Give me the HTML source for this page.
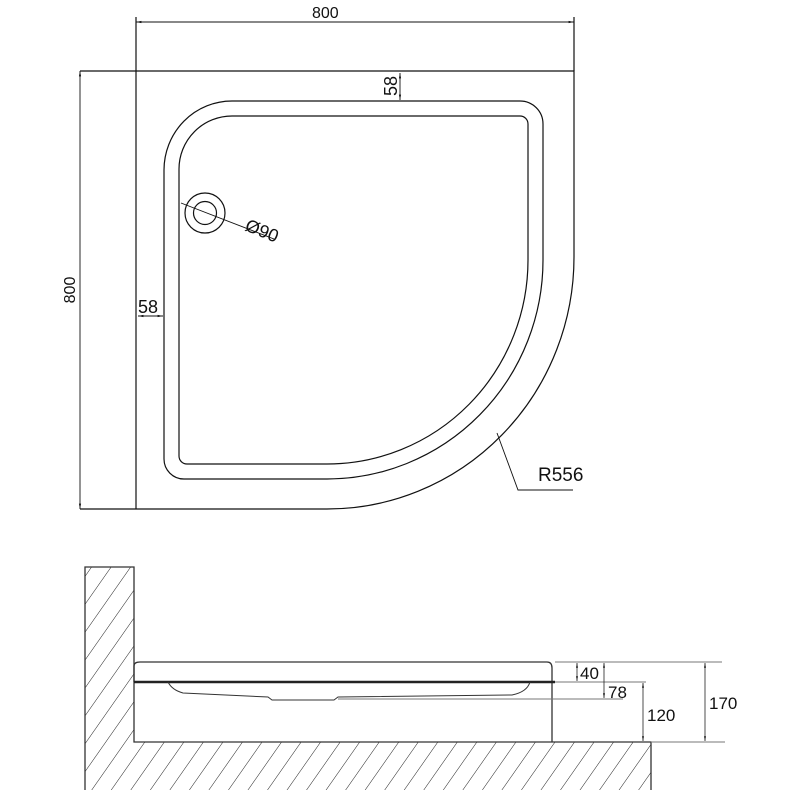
<!DOCTYPE html>
<html><head><meta charset="utf-8"><style>
html,body{margin:0;padding:0;background:#fff;}
svg{display:block;}
text{font-family:"Liberation Sans",sans-serif;fill:#111;}
</style></head><body>
<svg width="800" height="800" viewBox="0 0 800 800" xmlns="http://www.w3.org/2000/svg">
<defs>
<pattern id="h" width="16" height="16" patternUnits="userSpaceOnUse" patternTransform="rotate(35)">
<line x1="0" y1="0" x2="0" y2="16" stroke="#222" stroke-width="1"/>
</pattern>
<marker id="a" viewBox="0 0 10 10" refX="10" refY="5" markerWidth="6" markerHeight="6" orient="auto-start-reverse"><path d="M0,3 L10,5 L0,7 z" fill="#111"/></marker>
</defs>
<g fill="none" stroke="#111" stroke-width="1.2">
<line x1="136" y1="17" x2="136" y2="509"/>
<line x1="574" y1="17" x2="574" y2="71"/>
<line x1="136" y1="22" x2="574" y2="22" marker-start="url(#a)" marker-end="url(#a)" stroke-width="0.9"/>
<line x1="80" y1="71" x2="136" y2="71"/>
<line x1="80" y1="509" x2="136" y2="509"/>
<line x1="80" y1="71" x2="80" y2="509" marker-start="url(#a)" marker-end="url(#a)" stroke-width="0.9"/>
<path d="M136,71 L574,71 L574,257 A247,252 0 0 1 327,509 L136,509"/>
<path d="M164,170 A68,69 0 0 1 232,101 L520,101 A23,23 0 0 1 543,124 L543,260 A216,219 0 0 1 327,479 L184,479 A20,20 0 0 1 164,459 Z"/>
<path d="M179,169 A53,53 0 0 1 232,116 L520,116 A8,8 0 0 1 528,124 L528,260 A201,204 0 0 1 327,464 L187,464 A8,8 0 0 1 179,456 Z"/>
<circle cx="205" cy="213" r="20"/>
<circle cx="205" cy="213" r="11.5"/>
<line x1="181" y1="203" x2="274" y2="239" stroke-width="0.9"/>
<line x1="400" y1="73" x2="400" y2="100" marker-start="url(#a)" marker-end="url(#a)" stroke-width="0.9"/>
<line x1="138" y1="316" x2="163" y2="316" marker-start="url(#a)" marker-end="url(#a)" stroke-width="0.9"/>
<polyline points="497,433 518,490 573,490" stroke-width="0.9"/>
</g>
<text x="312" y="18" font-size="16">800</text>
<text transform="translate(75,290) rotate(-90)" font-size="16" text-anchor="middle">800</text>
<text transform="translate(397,86) rotate(-90)" font-size="18" text-anchor="middle">58</text>
<text x="138" y="313" font-size="18">58</text>
<text transform="translate(244,230) rotate(22)" font-size="18">Ø90</text>
<text x="538" y="481" font-size="19">R556</text>

<path d="M85,567 L134,567 L134,742 L651,742 L651,790 L85,790 Z" fill="url(#h)" stroke="none"/>
<g fill="none" stroke="#333" stroke-width="1.3">
<polyline points="85,790 85,567 134,567 134,742 651,742 651,790"/>
<path d="M134,682 L134,666 Q134,662 140,662 L547,662 Q552,662 552,668 L552,742"/>
<line x1="134" y1="682" x2="555" y2="682" stroke-width="2.6" stroke="#222"/>
<path d="M168,682 Q172,690 183,693 L268,697 L272,700 L334,700 L338,697 L512,695 Q527,692 530,682" stroke-width="1"/>
</g>
<g fill="none" stroke="#777" stroke-width="1">
<line x1="555" y1="662" x2="722" y2="662"/>
<line x1="555" y1="682" x2="646" y2="682"/>
<line x1="338" y1="699" x2="623" y2="699"/>
<line x1="651" y1="742" x2="725" y2="742"/>
</g>
<g stroke="#222" stroke-width="0.8" fill="none">
<line x1="577" y1="663" x2="577" y2="681" marker-start="url(#a)" marker-end="url(#a)"/>
<line x1="604" y1="663" x2="604" y2="698" marker-start="url(#a)" marker-end="url(#a)"/>
<line x1="643" y1="683" x2="643" y2="741" marker-start="url(#a)" marker-end="url(#a)"/>
<line x1="705" y1="663" x2="705" y2="741" marker-start="url(#a)" marker-end="url(#a)"/>
</g>
<text x="580" y="679" font-size="17">40</text>
<text x="608" y="698" font-size="17">78</text>
<text x="647" y="721" font-size="17">120</text>
<text x="709" y="709" font-size="17">170</text>
</svg>
</body></html>
